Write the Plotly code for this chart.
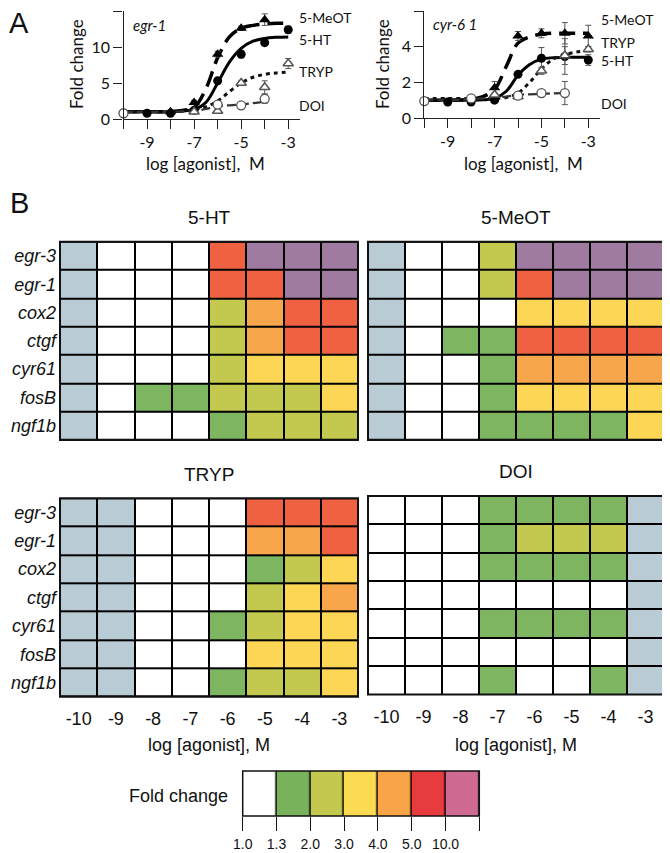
import plotly.graph_objects as go

# the page body adds an 8 px margin, so the figure is 8 px smaller than the window
OFF = 8
W, H = 670 - OFF, 853 - OFF

# ---------------- panel A data ----------------
conc = [-10, -9, -8, -7, -6, -5, -4, -3]
curve_x = [-10, -9, -8, -7.5, -7, -6.5, -6, -5.5, -5, -4.5, -4, -3.5, -3]
doi_curve_x = [-10, -9, -8, -7.5, -7, -6.5, -6, -5.5, -5, -4.5, -4]

# egr-1
egr1_ht_x = [-9, -8, -7, -6, -5, -4, -3]
egr1_ht_y = [0.8, 0.8, 1.2, 5.3, 9.0, 10.6, 12.4]
egr1_ht_err = [0.1, 0.1, 0.2, 0.4, 0.5, 0.4, 0.5]
egr1_meot_x = [-8, -7, -6, -5, -4]
egr1_meot_y = [1.0, 2.3, 9.0, 12.6, 13.8]
egr1_meot_err = [0.2, 0.3, 0.4, 0.3, 0.8]
egr1_tryp_x = [-7, -6, -5, -4, -3]
egr1_tryp_y = [1.0, 1.1, 5.0, 4.4, 7.7]
egr1_tryp_err = [0.1, 0.2, 0.3, 0.9, 0.7]
egr1_doi_x = [-10, -6, -5, -4]
egr1_doi_y = [0.8, 2.0, 1.9, 2.8]
egr1_doi_err = [0.1, 0.2, 0.2, 0.6]

egr1_ht_curve = [1.0, 1.0, 1.0, 1.1, 1.3, 2.3, 5.0, 7.9, 9.8, 10.8, 11.2, 11.35, 11.4]
egr1_meot_curve = [1.0, 1.0, 1.05, 1.2, 1.6, 4.2, 8.5, 11.4, 12.6, 13.0, 13.2, 13.3, 13.3]
egr1_tryp_curve = [1.0, 1.0, 1.0, 1.1, 1.3, 1.7, 2.5, 3.8, 5.0, 5.8, 6.2, 6.4, 6.5]
egr1_doi_curve = [1.0, 1.0, 1.0, 1.05, 1.1, 1.4, 1.8, 1.9, 2.0, 2.2, 2.4]

# cyr-61
cyr_ht_x = [-9, -8, -7, -6, -5, -4, -3]
cyr_ht_y = [0.9, 0.9, 1.0, 2.45, 3.35, 3.45, 3.25]
cyr_ht_err = [0.1, 0.1, 0.1, 0.15, 0.6, 1.0, 0.3]
cyr_meot_x = [-7, -6, -5, -4, -3]
cyr_meot_y = [1.7, 4.6, 4.75, 4.75, 4.6]
cyr_meot_err = [0.35, 0.25, 0.25, 0.6, 0.6]
cyr_tryp_x = [-7, -6, -5, -4, -3]
cyr_tryp_y = [1.3, 1.2, 2.65, 3.5, 3.85]
cyr_tryp_err = [0.1, 0.1, 0.2, 0.5, 0.15]
cyr_doi_x = [-10, -8, -6, -5, -4]
cyr_doi_y = [0.95, 1.1, 1.25, 1.4, 1.4]
cyr_doi_err = [0.05, 0.05, 0.1, 0.1, 0.65]

cyr_ht_curve = [1.0, 1.0, 1.0, 1.02, 1.1, 1.5, 2.4, 3.0, 3.3, 3.38, 3.4, 3.4, 3.4]
cyr_meot_curve = [1.0, 1.0, 1.05, 1.2, 1.6, 2.9, 4.2, 4.55, 4.7, 4.75, 4.75, 4.75, 4.75]
cyr_tryp_curve = [1.1, 1.1, 1.1, 1.1, 1.1, 1.15, 1.4, 2.0, 2.75, 3.3, 3.55, 3.7, 3.8]
cyr_doi_curve = [1.0, 1.0, 1.05, 1.1, 1.15, 1.2, 1.3, 1.33, 1.35, 1.38, 1.4]

# ---------------- panel B data ----------------
# levels: 0 = not done (grey), 1 = <1.3, 2 = 1.3-2, 3 = 2-3, 4 = 3-4, 5 = 4-5, 6 = 5-10, 7 = >10
genes = ["egr-3", "egr-1", "cox2", "ctgf", "cyr61", "fosB", "ngf1b"]
ht_levels = [
    [0, 1, 1, 1, 6, 7, 7, 7],
    [0, 1, 1, 1, 6, 6, 7, 7],
    [0, 1, 1, 1, 3, 5, 6, 6],
    [0, 1, 1, 1, 3, 5, 6, 6],
    [0, 1, 1, 1, 3, 4, 4, 4],
    [0, 1, 2, 2, 3, 3, 3, 4],
    [0, 1, 1, 1, 2, 3, 3, 3],
]
meot_levels = [
    [0, 1, 1, 3, 7, 7, 7, 7],
    [0, 1, 1, 3, 6, 7, 7, 7],
    [0, 1, 1, 1, 4, 4, 4, 4],
    [0, 1, 2, 2, 6, 6, 6, 6],
    [0, 1, 1, 2, 5, 5, 5, 5],
    [0, 1, 1, 2, 4, 4, 4, 4],
    [0, 1, 1, 2, 2, 2, 2, 4],
]
tryp_levels = [
    [0, 0, 1, 1, 1, 6, 6, 6],
    [0, 0, 1, 1, 1, 5, 5, 6],
    [0, 0, 1, 1, 1, 2, 3, 4],
    [0, 0, 1, 1, 1, 3, 4, 5],
    [0, 0, 1, 1, 2, 3, 4, 4],
    [0, 0, 1, 1, 1, 4, 4, 4],
    [0, 0, 1, 1, 2, 3, 3, 4],
]
doi_levels = [
    [1, 1, 1, 2, 2, 2, 2, 0],
    [1, 1, 1, 2, 3, 3, 3, 0],
    [1, 1, 1, 2, 2, 2, 2, 0],
    [1, 1, 1, 1, 1, 1, 1, 0],
    [1, 1, 1, 2, 2, 2, 2, 0],
    [1, 1, 1, 1, 1, 1, 1, 0],
    [1, 1, 1, 2, 1, 1, 2, 0],
]
cell_colors = ["#b9cbd5", "#ffffff", "#7db560", "#c3c84f", "#fdd656", "#f8a64c", "#ef6140", "#9f7ba1"]

# legend bar
legend_ticks = ["1.0", "1.3", "2.0", "3.0", "4.0", "5.0", "10.0", ""]
legend_colors = ["#ffffff", "#78b35b", "#c3c94f", "#fcdb52", "#f9a446", "#e83b3d", "#cf6a93"]


def px(x):
    return (x - OFF) / W


def py(y):
    return 1 - (y - OFF) / H


def step_scale(colors):
    n = len(colors)
    out = []
    for i, c in enumerate(colors):
        out.append([i / n, c])
        out.append([(i + 1) / n, c])
    return out


fig = go.Figure()
FA = "Lato"
FB = "Liberation Sans"

# ---------------- panel A ----------------
panels = [
    ("x", "y", [
        (egr1_ht_curve, egr1_ht_x, egr1_ht_y, egr1_ht_err, "ht"),
        (egr1_meot_curve, egr1_meot_x, egr1_meot_y, egr1_meot_err, "meot"),
        (egr1_tryp_curve, egr1_tryp_x, egr1_tryp_y, egr1_tryp_err, "tryp"),
        (egr1_doi_curve, egr1_doi_x, egr1_doi_y, egr1_doi_err, "doi"),
    ]),
    ("x2", "y2", [
        (cyr_ht_curve, cyr_ht_x, cyr_ht_y, cyr_ht_err, "ht"),
        (cyr_meot_curve, cyr_meot_x, cyr_meot_y, cyr_meot_err, "meot"),
        (cyr_tryp_curve, cyr_tryp_x, cyr_tryp_y, cyr_tryp_err, "tryp"),
        (cyr_doi_curve, cyr_doi_x, cyr_doi_y, cyr_doi_err, "doi"),
    ]),
]
line_style = {
    "ht": dict(color="black", width=3, dash="solid"),
    "meot": dict(color="black", width=3.5, dash="16px,8px"),
    "tryp": dict(color="#111", width=3, dash="4px,4px"),
    "doi": dict(color="#333", width=2.2, dash="9px,4px"),
}
marker_style = {
    "ht": dict(symbol="circle", size=9, color="black"),
    "meot": dict(symbol="triangle-up", size=10, color="black"),
    "tryp": dict(symbol="triangle-up", size=9, color="white", line=dict(color="#555", width=1.5)),
    "doi": dict(symbol="circle", size=9, color="white", line=dict(color="#555", width=1.3)),
}
for xa, ya, series in panels:
    for curve, sx, sy, se, key in series:
        cx = doi_curve_x if key == "doi" else curve_x
        fig.add_trace(go.Scatter(x=cx, y=curve, mode="lines", line=dict(shape="spline", **line_style[key]),
                                 xaxis=xa, yaxis=ya, hoverinfo="skip", cliponaxis=False))
    for curve, sx, sy, se, key in series:
        fig.add_trace(go.Scatter(x=sx, y=sy, mode="markers", marker=marker_style[key],
                                 error_y=dict(type="data", array=se, color="#555", thickness=1, width=3),
                                 xaxis=xa, yaxis=ya, cliponaxis=False))

x_ticktext = ["" if v % 2 == 0 else str(v) for v in conc]
common_a = dict(showline=True, linecolor="#222", linewidth=1.3, ticks="outside", ticklen=9,
                tickcolor="#222", tickwidth=1.3, showgrid=False, zeroline=False, automargin=False,
                tickfont=dict(family=FA, size=16, color="#111"))
fig.update_layout(
    xaxis=dict(domain=[px(123.5), px(300)], range=[-10, -2.5], anchor="y",
               tickvals=conc, ticktext=x_ticktext, **common_a),
    yaxis=dict(domain=[py(119), py(11)], range=[0, 15], anchor="x", tickvals=[0, 5, 10, 15], **common_a),
    xaxis2=dict(domain=[px(424.3), px(600)], range=[-10, -2.5], anchor="y2",
                tickvals=conc, ticktext=x_ticktext, **common_a),
    yaxis2=dict(domain=[py(118), py(11)], range=[0, 6], anchor="x2", tickvals=[0, 2, 4, 6], **common_a),
)

# ---------------- panel B heatmaps ----------------
heat_panels = [
    ("x3", "y3", ht_levels, "5-HT", (60, 358, 241.7, 440), True, False),
    ("x4", "y4", meot_levels, "5-MeOT", (368, 664, 241.7, 440), False, False),
    ("x5", "y5", tryp_levels, "TRYP", (60, 358, 498.3, 696.7), True, True),
    ("x6", "y6", doi_levels, "DOI", (368, 664, 496, 694.5), False, True),
]
shapes = []
annotations = []
for xa, ya, z, title, (x0, x1, y0, y1), rowlab, collab in heat_panels:
    n = xa[1:]
    fig.add_trace(go.Heatmap(x=conc, y=genes, z=z, colorscale=step_scale(cell_colors),
                             zmin=-0.5, zmax=7.5, showscale=False, xgap=2, ygap=2,
                             xaxis=xa, yaxis=ya, hoverinfo="skip"))
    fig.update_layout(**{
        "xaxis" + n: dict(domain=[px(x0), px(x1)], range=[-10.5, -2.5], anchor=ya, showgrid=False,
                          zeroline=False, showline=False, ticks="", automargin=False,
                          tickvals=conc if collab else [], ticktext=[str(v) for v in conc],
                          ticklabelstandoff=9, tickfont=dict(family=FB, size=18, color="#111")),
        "yaxis" + n: dict(domain=[py(y1), py(y0)], autorange="reversed", anchor=xa, showgrid=False,
                          zeroline=False, showline=False, ticks="", automargin=False,
                          tickvals=genes if rowlab else [], ticktext=["<i>%s</i>" % g for g in genes],
                          ticklabelstandoff=3, tickfont=dict(family=FB, size=18, color="#111")),
    })
    shapes.append(dict(type="rect", xref=xa + " domain", yref=ya + " domain", x0=0, x1=1, y0=0, y1=1,
                       fillcolor="black", line=dict(width=0), layer="below"))
    shapes.append(dict(type="rect", xref=xa + " domain", yref=ya + " domain", x0=0, x1=1, y0=0, y1=1,
                       line=dict(color="#111", width=2), layer="above"))
    annotations.append(dict(text=title, x=px((x0 + x1) / 2), y=py(y0 - 24), xref="paper", yref="paper",
                            xanchor="center", yanchor="middle", showarrow=False,
                            font=dict(family=FB, size=19, color="#111")))
    if collab:
        annotations.append(dict(text="log [agonist], M", x=px((x0 + x1) / 2), y=py(745), xref="paper",
                                yref="paper", xanchor="center", yanchor="middle", showarrow=False,
                                font=dict(family=FB, size=18, color="#111")))

# ---------------- fold change legend bar ----------------
fig.add_trace(go.Heatmap(x=[i + 0.5 for i in range(len(legend_colors))], y=[0],
                         z=[list(range(len(legend_colors)))], colorscale=step_scale(legend_colors),
                         zmin=-0.5, zmax=len(legend_colors) - 0.5, showscale=False, xgap=1.5,
                         xaxis="x7", yaxis="y7", hoverinfo="skip"))
fig.update_layout(
    xaxis7=dict(domain=[px(242.7), px(479.3)], range=[0, 7], anchor="y7", showgrid=False, zeroline=False,
                showline=False, ticks="outside", ticklen=14, tickcolor="#111", tickwidth=1.3,
                automargin=False, tickvals=list(range(8)), ticktext=legend_ticks, ticklabelstandoff=1,
                tickfont=dict(family=FB, size=14, color="#111")),
    yaxis7=dict(domain=[py(816), py(771)], range=[-0.5, 0.5], anchor="x7", visible=False),
)
shapes.append(dict(type="rect", xref="x7 domain", yref="y7 domain", x0=0, x1=1, y0=0, y1=1,
                   fillcolor="black", line=dict(width=0), layer="below"))
shapes.append(dict(type="rect", xref="x7 domain", yref="y7 domain", x0=0, x1=1, y0=0, y1=1,
                   line=dict(color="#111", width=1.5), layer="above"))
annotations.append(dict(text="Fold change", x=px(230), y=py(796), xref="paper", yref="paper",
                        xanchor="right", yanchor="middle", showarrow=False,
                        font=dict(family=FB, size=18, color="#111")))


# ---------------- panel A labels ----------------
def ann(text, x, y, size=14, family=FA, xanchor="left", **kw):
    annotations.append(dict(text=text, x=px(x), y=py(y), xref="paper", yref="paper", xanchor=xanchor,
                            yanchor="middle", showarrow=False,
                            font=dict(family=family, size=size, color="#111"), **kw))


ann("A", 19, 23, size=29, family=FB, xanchor="center")
ann("B", 19, 203, size=29, family=FB, xanchor="center")
ann("<i>egr-1</i>", 131, 25, size=15)
ann("<i>cyr-6 1</i>", 431, 24, size=15)
for text, y in [("5-MeOT", 18), ("5-HT", 39), ("TRYP", 71), ("DOI", 105)]:
    ann(text, 297, y)
for text, y in [("5-MeOT", 20), ("TRYP", 42), ("5-HT", 61), ("DOI", 103)]:
    ann(text, 599, y)
ann("Fold change", 77, 64, size=17, xanchor="center", textangle=-90)
ann("Fold change", 383, 64, size=17, xanchor="center", textangle=-90)
ann("log [agonist],  M", 205, 163, size=17, xanchor="center")
ann("log [agonist],  M", 523, 163, size=17, xanchor="center")

fig.update_layout(width=W, height=H, margin=dict(l=0, r=0, t=0, b=0), showlegend=False,
                  plot_bgcolor="white", paper_bgcolor="white", shapes=shapes, annotations=annotations)

fig.write_html("out.html")
